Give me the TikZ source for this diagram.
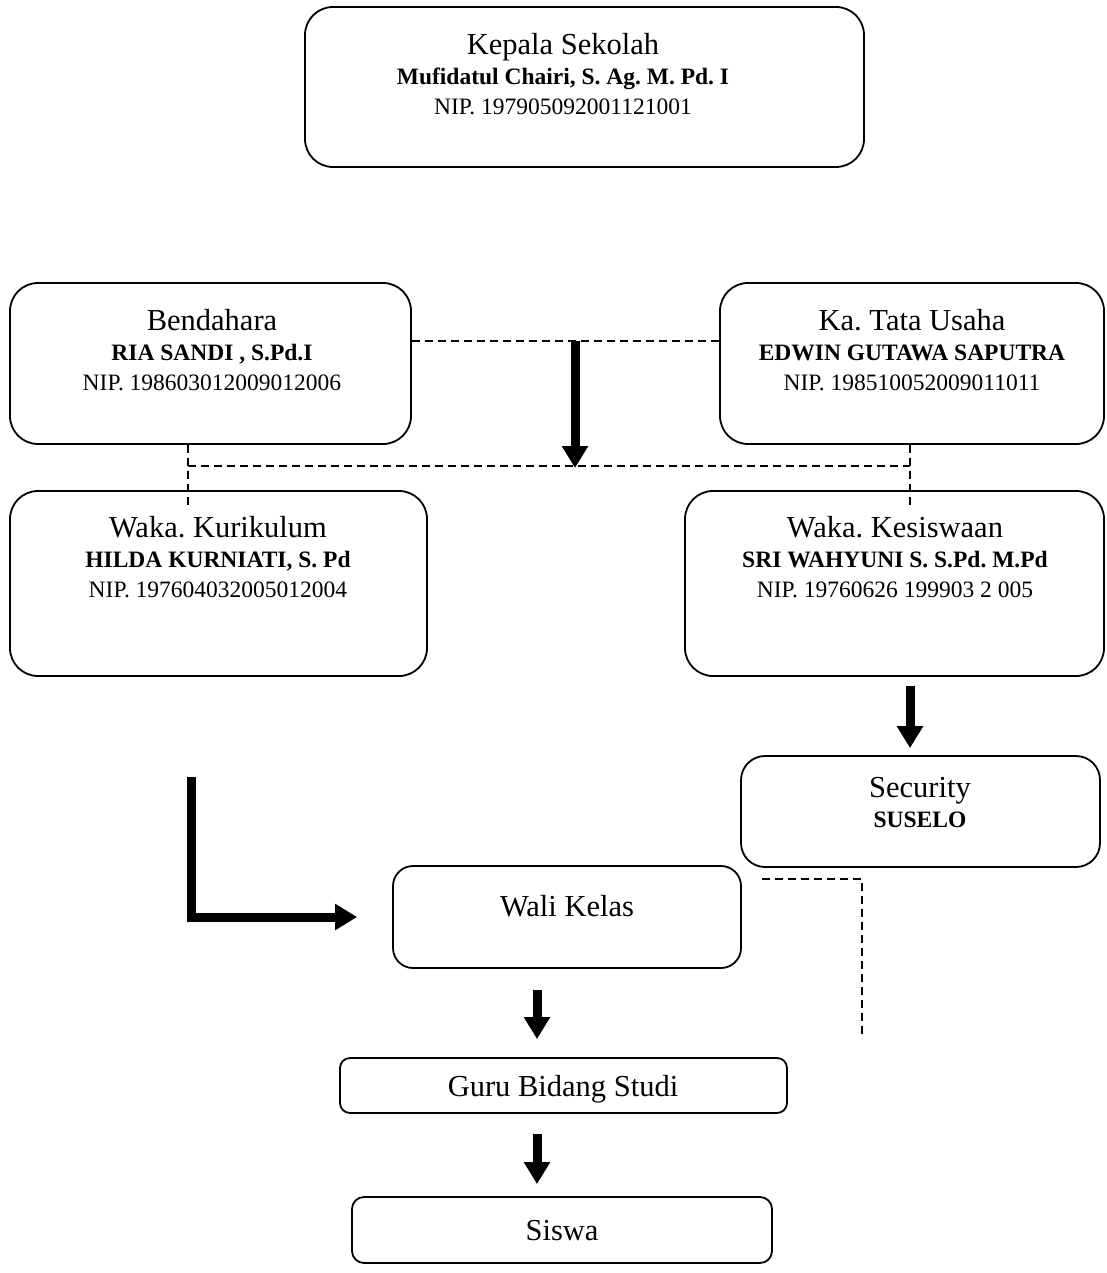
\documentclass[tikz,border=0pt]{standalone}
\usepackage{fontspec}
\setmainfont{Liberation Serif}
\usetikzlibrary{positioning,arrows.meta}
\frenchspacing

\newcommand{\ttl}[1]{{\fontsize{30.5}{32}\selectfont #1}}

\tikzset{
	box/.style={draw, line width=1.8pt, rounded corners=#1, inner sep=0pt},
	box/.default=28pt,
	txt/.style={align=center, inner sep=0pt, anchor=base, font=\fontsize{23.5}{30}\selectfont},
	dashline/.style={line width=1.7pt, dash pattern=on 8pt off 5pt},
	bigarrow/.style={line width=9pt, -{Triangle[width=25pt,length=22pt]}}
}

\begin{document}
\begin{tikzpicture}[x=1pt, y=-1pt]
	\useasboundingbox (0,0) rectangle (1106,1273);

	% boxes (text nodes sit on the baseline of their last line)
	\node[box, minimum width=559pt, minimum height=160pt] (kepala) at (584.5,87) {};
	\node[txt] (kepalaT) at (563,115) {\ttl{Kepala Sekolah}\\ \textbf{Mufidatul Chairi, S. Ag. M. Pd. I}\\ NIP. 197905092001121001};
	\node[box, minimum width=401pt, minimum height=161pt] (bendahara) at (210.5,363.5) {};
	\node[txt] (bendaharaT) at (212,390) {\ttl{Bendahara}\\ \textbf{RIA SANDI , S.Pd.I}\\ NIP. 198603012009012006};
	\node[box, minimum width=384pt, minimum height=161pt] (katu) at (912,363.5) {};
	\node[txt] (katuT) at (912,390) {\ttl{Ka. Tata Usaha}\\ \textbf{EDWIN GUTAWA SAPUTRA}\\ NIP. 198510052009011011};
	\node[box, minimum width=417pt, minimum height=185pt] (kurikulum) at (218.5,583.5) {};
	\node[txt] (kurikulumT) at (218,597) {\ttl{Waka. Kurikulum}\\ \textbf{HILDA KURNIATI, S. Pd}\\ NIP. 197604032005012004};
	\node[box, minimum width=419pt, minimum height=185pt] (kesiswaan) at (894.5,583.5) {};
	\node[txt] (kesiswaanT) at (895,597) {\ttl{Waka. Kesiswaan}\\ \textbf{SRI WAHYUNI S. S.Pd. M.Pd}\\ NIP. 19760626 199903 2 005};
	\node[box=24pt, minimum width=359pt, minimum height=111pt] (security) at (920.5,811.5) {};
	\node[txt] (securityT) at (920,827) {\ttl{Security}\\ \textbf{SUSELO}};
	\node[box=20pt, minimum width=348pt, minimum height=102pt] (wali) at (567,917) {};
	\node[txt] (waliT) at (567,916) {\ttl{Wali Kelas}};
	\node[box=10pt, minimum width=447pt, minimum height=55pt] (guru) at (563.5,1085.5) {};
	\node[txt] (guruT) at (563,1096) {\ttl{Guru Bidang Studi}};
	\node[box=12pt, minimum width=420pt, minimum height=66pt] (siswa) at (562,1230) {};
	\node[txt] (siswaT) at (562,1240) {\ttl{Siswa}};

	% free ends
	\coordinate (midTop) at (575,341);
	\coordinate (midLow) at (575,468);
	\coordinate (lowL) at (188,466);
	\coordinate (lowR) at (910,466);
	\coordinate (kurTip) at (188,505);
	\coordinate (kesTip) at (910,505);
	\coordinate (secTop) at (910,686);
	\coordinate (lTop) at (191,777);
	\coordinate (lCorner) at (191,917);
	\coordinate (guruTop) at (537,990);
	\coordinate (siswaTop) at (537,1134);
	\coordinate (waliDash) at (762,879);
	\coordinate (waliEnd) at (862,1035);

	% dashed lines
	\draw[dashline] ([yshift=22.5pt]bendahara.east) -- ([yshift=22.5pt]katu.west);
	\draw[dashline] (bendahara.south -| lowL) -- (kurTip);
	\draw[dashline] (katu.south -| lowR) -- (kesTip);
	\draw[dashline] (lowL) -- (lowR);
	\draw[dashline] (waliDash) -- (waliDash -| waliEnd) -- (waliEnd);

	% arrows
	\draw[bigarrow] (midTop) -- (midLow);
	\draw[bigarrow, shorten >=7pt] (secTop) -- (secTop |- security.north);
	\draw[bigarrow] (lTop) -- (lCorner) -- ([xshift=-35pt]wali.west);
	\draw[bigarrow, shorten >=18pt] (guruTop) -- (guruTop |- guru.north);
	\draw[bigarrow, shorten >=12pt] (siswaTop) -- (siswaTop |- siswa.north);
\end{tikzpicture}
\end{document}
